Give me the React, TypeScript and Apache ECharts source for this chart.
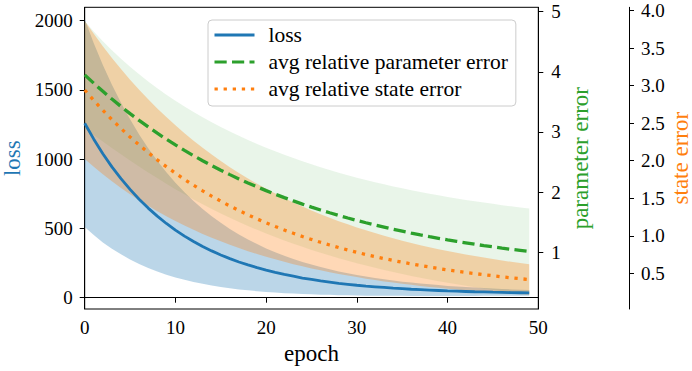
import React, { useEffect, useRef } from "react";
import * as echarts from "echarts";

const epochs = [
  0, 1, 2, 3, 4, 5, 6, 7, 8, 9, 10, 11, 12, 13, 14, 15, 16, 17, 18, 19, 20, 21, 22, 23, 24,
  25, 26, 27, 28, 29, 30, 31, 32, 33, 34, 35, 36, 37, 38, 39, 40, 41, 42, 43, 44, 45, 46, 47, 48, 49,
];

const lossMean = [
  1260, 1145, 1040, 945, 860, 782, 711, 647, 589, 536, 488, 445, 406, 370, 338, 309, 282, 258, 237, 217,
  199, 183, 168, 155, 142, 132, 122, 113, 104, 97, 90, 84, 79, 74, 69, 65, 61, 58, 55, 52,
  49, 47, 45, 43, 42, 40, 39, 37, 36, 35,
];
const lossStd = [
  750, 693, 641, 592, 547, 506, 468, 432, 400, 370, 342, 316, 292, 270, 250, 232, 214, 198, 184, 170,
  157, 146, 135, 125, 116, 107, 100, 92, 86, 80, 74, 69, 64, 59, 55, 51, 48, 45, 42, 39,
  36, 34, 32, 30, 28, 26, 24, 23, 22, 20,
];

const paramMean = [
  3.95, 3.81, 3.676, 3.547, 3.424, 3.305, 3.192, 3.084, 2.98, 2.88, 2.785, 2.694, 2.606, 2.522, 2.442,
  2.365, 2.291, 2.22, 2.152, 2.087, 2.025, 1.965, 1.908, 1.854, 1.801, 1.751, 1.703, 1.657, 1.612, 1.57,
  1.53, 1.491, 1.453, 1.418, 1.383, 1.351, 1.319, 1.289, 1.26, 1.233, 1.206, 1.181, 1.157, 1.133, 1.111,
  1.09, 1.069, 1.049, 1.031, 1.013,
];
const paramStd = [
  0.895, 0.861, 0.834, 0.812, 0.793, 0.778, 0.766, 0.756, 0.747, 0.741, 0.735, 0.73, 0.727, 0.724, 0.721,
  0.719, 0.718, 0.716, 0.715, 0.714, 0.713, 0.713, 0.712, 0.712, 0.711, 0.711, 0.711, 0.711, 0.711, 0.711,
  0.711, 0.712, 0.712, 0.712, 0.712, 0.713, 0.713, 0.713, 0.713, 0.714, 0.714, 0.714, 0.714, 0.714, 0.715,
  0.715, 0.715, 0.715, 0.715, 0.715,
];

const stateMean = [
  2.943, 2.805, 2.673, 2.548, 2.43, 2.317, 2.21, 2.109, 2.012, 1.921, 1.834, 1.751, 1.673, 1.599, 1.528,
  1.461, 1.397, 1.337, 1.279, 1.225, 1.173, 1.124, 1.077, 1.033, 0.991, 0.951, 0.913, 0.877, 0.843, 0.811,
  0.78, 0.75, 0.723, 0.696, 0.671, 0.647, 0.625, 0.603, 0.583, 0.564, 0.545, 0.528, 0.511, 0.496, 0.481,
  0.467, 0.453, 0.44, 0.428, 0.417,
];
const stateStd = [
  0.92, 0.886, 0.854, 0.822, 0.793, 0.764, 0.737, 0.71, 0.685, 0.661, 0.638, 0.615, 0.594, 0.574, 0.554,
  0.535, 0.517, 0.5, 0.484, 0.468, 0.453, 0.438, 0.424, 0.411, 0.398, 0.386, 0.374, 0.362, 0.352, 0.341,
  0.331, 0.322, 0.313, 0.304, 0.295, 0.287, 0.279, 0.272, 0.265, 0.258, 0.252, 0.245, 0.239, 0.234, 0.228,
  0.223, 0.218, 0.213, 0.208, 0.204,
];

const lossTicks = [0, 500, 1000, 1500, 2000];
const paramTicks = [1, 2, 3, 4, 5];
const stateTicks = [0.5, 1.0, 1.5, 2.0, 2.5, 3.0, 3.5, 4.0];

const seriesNames = ["loss", "avg relative parameter error", "avg relative state error"];
const axisNames = ["epoch", "loss", "parameter error", "state error"];

const BLUE = "#1f77b4";
const GREEN = "#2ca02c";
const ORANGE = "#ff7f0e";
const FONT = "'Liberation Serif', 'DejaVu Serif', serif";

export default function App() {
  const ref = useRef<HTMLDivElement>(null);

  useEffect(() => {
    if (!ref.current) return;
    const chart = echarts.init(ref.current, null, { renderer: "svg" });

    const pairs = (arr: number[]) => epochs.map((e, i) => [e, arr[i]]);

    const band = (yAxisIndex: number, mean: number[], std: number[], color: string) => {
      const lo = mean.map((v, i) => v - std[i]);
      const hi = mean.map((v, i) => v + std[i]);
      return {
        type: "custom",
        coordinateSystem: "cartesian2d",
        yAxisIndex,
        silent: true,
        data: epochs.map((e, i) => [e, lo[i], hi[i]]),
        encode: { x: 0, y: [1, 2] },
        renderItem: (params: any, api: any) => {
          if (params.dataIndex !== 0) return null;
          const pts: number[][] = [];
          for (let i = 0; i < epochs.length; i++) pts.push(api.coord([epochs[i], hi[i]]));
          for (let i = epochs.length - 1; i >= 0; i--) pts.push(api.coord([epochs[i], lo[i]]));
          return { type: "polygon", shape: { points: pts }, style: { fill: color } };
        },
      };
    };

    const tickLabel = { fontFamily: FONT, fontSize: 19, color: "#000" };
    const axisLine = { show: true, lineStyle: { color: "#000", width: 1 } };
    const axisTick = (vals: number[]) => ({
      show: true,
      length: 5,
      lineStyle: { color: "#000", width: 1 },
      customValues: vals,
    });

    chart.setOption({
      animation: false,
      backgroundColor: "#fff",
      textStyle: { fontFamily: FONT },
      grid: {
        left: 84.7,
        right: 153.7,
        top: 7.3,
        bottom: 62,
        containLabel: false,
        outerBoundsMode: "none",
        show: true,
        borderColor: "#000",
        borderWidth: 1,
        backgroundColor: "transparent",
      },
      legend: {
        data: seriesNames,
        orient: "vertical",
        left: 208,
        top: 20,
        itemWidth: 40,
        itemHeight: 14,
        itemGap: 5,
        padding: [4, 8, 6, 5],
        backgroundColor: "rgba(255,255,255,0.85)",
        borderColor: "#cccccc",
        borderWidth: 1,
        borderRadius: 4,
        itemStyle: { opacity: 0 },
        lineStyle: { width: 3 },
        textStyle: { fontFamily: FONT, fontSize: 21.5, lineHeight: 21, color: "#000", padding: [0, 0, 0, 9] },
      },
      xAxis: {
        type: "value",
        min: 0,
        max: 50,
        interval: 10,
        name: axisNames[0],
        nameLocation: "middle",
        nameGap: 33,
        nameMoveOverlap: false,
        nameTextStyle: { fontFamily: FONT, fontSize: 23, color: "#000" },
        axisLine,
        axisTick: { show: true, length: 5, lineStyle: { color: "#000", width: 1 } },
        axisLabel: { ...tickLabel, margin: 9, formatter: (v: number) => String(v) },
        splitLine: { show: false },
      },
      yAxis: [
        {
          type: "value",
          position: "left",
          min: -81.5,
          max: 2097,
          name: axisNames[1],
          nameLocation: "middle",
          nameRotate: 90,
          nameGap: 61,
          nameMoveOverlap: false,
          nameTextStyle: { fontFamily: FONT, fontSize: 23, color: BLUE },
          axisLine,
          axisTick: axisTick(lossTicks),
          axisLabel: { ...tickLabel, margin: 12, customValues: lossTicks, formatter: (v: number) => String(v) },
          splitLine: { show: false },
        },
        {
          type: "value",
          position: "right",
          min: 0.057,
          max: 5.073,
          name: axisNames[2],
          nameLocation: "middle",
          nameRotate: 90,
          nameGap: 31,
          nameMoveOverlap: false,
          nameTextStyle: { fontFamily: FONT, fontSize: 23, color: GREEN },
          axisLine,
          axisTick: axisTick(paramTicks),
          axisLabel: { ...tickLabel, margin: 13, customValues: paramTicks, formatter: (v: number) => String(v) },
          splitLine: { show: false },
        },
        {
          type: "value",
          position: "right",
          offset: 90.7,
          min: 0.024,
          max: 4.045,
          name: axisNames[3],
          nameLocation: "middle",
          nameRotate: 90,
          nameGap: 40,
          nameMoveOverlap: false,
          nameTextStyle: { fontFamily: FONT, fontSize: 23, color: ORANGE },
          axisLine,
          axisTick: axisTick(stateTicks),
          axisLabel: {
            ...tickLabel,
            margin: 12,
            customValues: stateTicks,
            formatter: (v: number) => v.toFixed(1),
          },
          splitLine: { show: false },
        },
      ],
      series: [
        band(0, lossMean, lossStd, "rgba(31,119,180,0.3)"),
        {
          name: seriesNames[0],
          type: "line",
          yAxisIndex: 0,
          data: pairs(lossMean),
          symbol: "none",
          lineStyle: { color: BLUE, width: 2.8 },
          itemStyle: { color: BLUE },
        },
        band(1, paramMean, paramStd, "rgba(44,160,44,0.1)"),
        {
          name: seriesNames[1],
          type: "line",
          yAxisIndex: 1,
          data: pairs(paramMean),
          symbol: "none",
          lineStyle: { color: GREEN, width: 3.3, type: [12.2, 5.3], cap: "butt" },
          itemStyle: { color: GREEN },
        },
        band(2, stateMean, stateStd, "rgba(255,127,14,0.3)"),
        {
          name: seriesNames[2],
          type: "line",
          yAxisIndex: 2,
          data: pairs(stateMean),
          symbol: "none",
          lineStyle: { color: ORANGE, width: 3.3, type: [3.3, 5.8], cap: "butt" },
          itemStyle: { color: ORANGE },
        },
      ],
    });

    return () => chart.dispose();
  }, []);

  return (
    <div
      ref={ref}
      style={{ position: "fixed", left: 0, top: 0, width: 692, height: 371 }}
    />
  );
}
